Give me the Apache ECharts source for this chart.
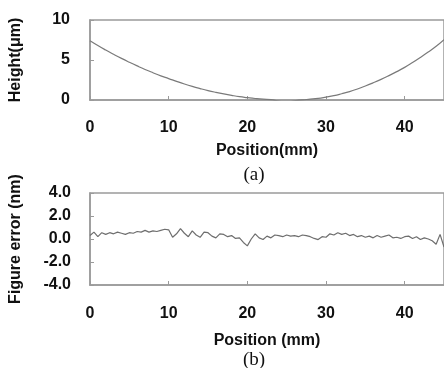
<!DOCTYPE html>
<html><head><meta charset="utf-8">
<script src="https://cdn.jsdelivr.net/npm/echarts@6/dist/echarts.min.js"></script>
<style>html,body{margin:0;padding:0;background:#fff}#c{width:444px;height:368px}</style>
</head><body><div id="c"></div>
<script>
// (a) surface height profile
const heightX = [0,1,2,3,4,5,6,7,8,9,10,11,12,13,14,15,16,17,18,19,20,21,22,23,24,25,26,27,28,29,30,31,32,33,34,35,36,37,38,39,40,41,42,43,44,45];
const heightY = [7.4,6.8,6.24,5.71,5.2,4.72,4.26,3.82,3.41,3.02,2.68,2.33,2.0,1.7,1.43,1.18,0.96,0.76,0.58,0.42,0.3,0.19,0.1,0.04,-0.15,-0.25,-0.1,0.02,0.1,0.2,0.36,0.54,0.78,1.05,1.38,1.75,2.15,2.58,3.05,3.55,4.08,4.68,5.32,6.0,6.72,7.55];
// (b) figure error
const errX = [0,0.5,1,1.5,2,2.5,3,3.5,4,4.5,5,5.5,6,6.5,7,7.5,8,8.5,9,9.5,10,10.5,11,11.5,12,12.5,13,13.5,14,14.5,15,15.5,16,16.5,17,17.5,18,18.5,19,19.5,20,20.5,21,21.5,22,22.5,23,23.5,24,24.5,25,25.5,26,26.5,27,27.5,28,28.5,29,29.5,30,30.5,31,31.5,32,32.5,33,33.5,34,34.5,35,35.5,36,36.5,37,37.5,38,38.5,39,39.5,40,40.5,41,41.5,42,42.5,43,43.5,44,44.5,45];
const errY = [0.3,0.6,0.2,0.55,0.4,0.55,0.45,0.6,0.5,0.4,0.55,0.5,0.65,0.6,0.75,0.6,0.7,0.65,0.75,0.85,0.8,0.15,0.45,0.9,0.5,0.2,0.7,0.35,0.15,0.6,0.55,0.25,0.1,0.45,0.4,0.2,0.3,0.05,0.1,-0.3,-0.6,0.0,0.45,0.1,-0.05,0.25,0.1,0.35,0.3,0.2,0.35,0.25,0.3,0.2,0.35,0.3,0.2,0.05,-0.05,0.2,0.15,0.45,0.35,0.55,0.4,0.5,0.3,0.4,0.2,0.3,0.15,0.25,0.1,0.3,0.15,0.25,0.35,0.1,0.15,0.05,0.2,0.25,0.05,0.2,-0.05,0.1,0.0,-0.15,-0.45,0.4,-0.7];
const xTicks = [0,10,20,30,40];
const topTicks = [0,5,10];
const botTicks = [-4,-2,0,2,4];

const font = 'Liberation Sans, Arial, sans-serif';
const axCol = '#9a9a9a';
const lblStyle = {color:'#111', fontFamily:font, fontWeight:'bold', fontSize:16};
function xAx(gi, margin, nameGap, name){
  return {type:'value', gridIndex:gi, min:xTicks[0], max:45, interval:10, name:name, nameLocation:'middle', nameGap:nameGap,
    nameTextStyle:{color:'#111', fontFamily:font, fontWeight:'bold', fontSize:16},
    axisLine:{onZero:false, lineStyle:{color:axCol, width:1.5}}, axisTick:{inside:true, length:4, lineStyle:{color:axCol}},
    axisLabel:Object.assign({margin:margin, showMaxLabel:false}, lblStyle), splitLine:{show:false}};
}
function yAx(gi, min, max, interval, name, fmt, margin){
  return {type:'value', gridIndex:gi, min:min, max:max, interval:interval, name:name, nameLocation:'middle', nameGap:66,
    nameTextStyle:{color:'#111', fontFamily:font, fontWeight:'bold', fontSize:16},
    axisLine:{show:true, onZero:false, lineStyle:{color:axCol, width:1.5}}, axisTick:{show:true, inside:true, length:4, lineStyle:{color:axCol}},
    axisLabel:Object.assign({margin:margin, formatter:fmt}, lblStyle), splitLine:{show:false}};
}
const chart = echarts.init(document.getElementById('c'));
chart.setOption({
  animation:false,
  backgroundColor:'#fff',
  grid:[
    {left:85, top:20, height:80, right:-1, show:true, borderColor:axCol, borderWidth:1.5},
    {left:86, top:193, height:92, right:-2, show:true, borderColor:axCol, borderWidth:1.5}
  ],
  title:[
    {text:'(a)', left:249, top:161, textAlign:'center', textStyle:{fontFamily:'Liberation Serif, Times New Roman, serif', fontWeight:'normal', fontSize:19, color:'#111'}},
    {text:'(b)', left:249, top:346, textAlign:'center', textStyle:{fontFamily:'Liberation Serif, Times New Roman, serif', fontWeight:'normal', fontSize:19, color:'#111'}}
  ],
  xAxis:[xAx(0, 20, 43, 'Position(mm)'), xAx(1, 21, 48, 'Position (mm)')],
  yAxis:[
    yAx(0, topTicks[0], topTicks[2], 5, 'Height(\u03bcm)', v=>String(v), 20),
    yAx(1, botTicks[0], botTicks[4], 2, 'Figure error (nm)', v=>v.toFixed(1), 19)
  ],
  series:[
    {type:'line', xAxisIndex:0, yAxisIndex:0, data:heightX.map((x,i)=>[x,heightY[i]]), symbol:'none', smooth:true, clip:true, lineStyle:{color:'#7a7a7a', width:1.2}},
    {type:'line', xAxisIndex:1, yAxisIndex:1, data:errX.map((x,i)=>[x,errY[i]]), symbol:'none', clip:true, lineStyle:{color:'#6e6e6e', width:1.2}}
  ]
});
</script></body></html>
